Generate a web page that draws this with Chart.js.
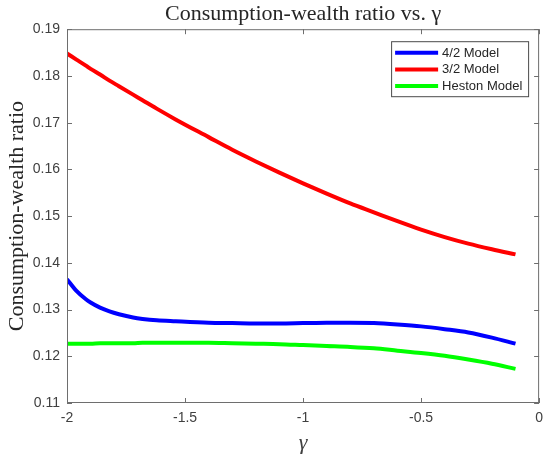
<!DOCTYPE html>
<html>
<head>
<meta charset="utf-8">
<title>Consumption-wealth ratio vs. gamma</title>
<script src="https://cdn.jsdelivr.net/npm/chart.js@4.4.0/dist/chart.umd.min.js"></script>
<style>
  html, body { margin: 0; padding: 0; background: #fff; }
  #wrap { width: 550px; height: 457px; }
</style>
</head>
<body>
<div id="wrap"><canvas id="ratioChart" width="550" height="457"></canvas></div>
<script>
// values
const gammaValues = [-2, -1.96, -1.92, -1.9, -1.86, -1.82, -1.78, -1.72, -1.68, -1.62, -1.54, -1.4, -1.3, -1.2, -1.1, -1, -0.9, -0.8, -0.7, -0.6, -0.5, -0.4, -0.3, -0.2, -0.1];
const model42 = [0.1365, 0.1340, 0.1322, 0.1315, 0.1304, 0.1296, 0.1290, 0.1283, 0.1280, 0.1277, 0.1275, 0.1272, 0.1271, 0.1270, 0.1270, 0.1271, 0.1272, 0.1272, 0.1271, 0.1268, 0.1264, 0.1258, 0.1251, 0.1240, 0.1227];
const model32 = [0.1848, 0.1835, 0.1822, 0.1815, 0.1803, 0.1790, 0.1778, 0.1760, 0.1748, 0.1730, 0.1707, 0.1669, 0.1642, 0.1617, 0.1593, 0.1570, 0.1548, 0.1527, 0.1508, 0.1489, 0.1471, 0.1455, 0.1441, 0.1429, 0.1418];
const hestonModel = [0.1227, 0.1227, 0.1227, 0.1227, 0.1228, 0.1228, 0.1228, 0.1228, 0.1229, 0.1229, 0.1229, 0.1229, 0.1228, 0.1227, 0.1226, 0.1224, 0.1222, 0.1220, 0.1217, 0.1212, 0.1207, 0.1201, 0.1193, 0.1184, 0.1173];

const seriesNames = ['4/2 Model', '3/2 Model', 'Heston Model'];
const seriesColors = ['#0000ff', '#ff0000', '#00ff00'];

const xTicks = [-2, -1.5, -1, -0.5, 0];
const xTickLabels = ['-2', '-1.5', '-1', '-0.5', '0'];
const yTicks = [0.11, 0.12, 0.13, 0.14, 0.15, 0.16, 0.17, 0.18, 0.19];
const yTickLabels = ['0.11', '0.12', '0.13', '0.14', '0.15', '0.16', '0.17', '0.18', '0.19'];

function toPoints(values) {
  return gammaValues.map((g, i) => ({ x: g, y: values[i] }));
}

// matlab style box with inward ticks on all four sides
const boxAxes = {
  id: 'boxAxes',
  afterDatasetsDraw(chart) {
    const { ctx, chartArea: a, scales } = chart;
    const tickLen = 5;
    ctx.save();
    ctx.strokeStyle = '#6e6e6e';
    ctx.lineWidth = 1;
    ctx.strokeRect(a.left + 0.5, a.top + 0.5, a.right - a.left - 1, a.bottom - a.top - 1);
    ctx.beginPath();
    xTicks.forEach(v => {
      const px = Math.round(scales.x.getPixelForValue(v)) + 0.5;
      ctx.moveTo(px, a.bottom); ctx.lineTo(px, a.bottom - tickLen);
      ctx.moveTo(px, a.top); ctx.lineTo(px, a.top + tickLen);
    });
    yTicks.forEach(v => {
      const py = Math.round(scales.y.getPixelForValue(v)) + 0.5;
      ctx.moveTo(a.left, py); ctx.lineTo(a.left + tickLen, py);
      ctx.moveTo(a.right, py); ctx.lineTo(a.right - tickLen, py);
    });
    ctx.stroke();
    ctx.restore();
  }
};

// legend box in the top right corner of the plot
const boxLegend = {
  id: 'boxLegend',
  afterDraw(chart) {
    const { ctx, chartArea: a } = chart;
    const w = 137, h = 55;
    const left = a.right - 11 - w;
    const top = a.top + 12;
    ctx.save();
    ctx.fillStyle = '#fff';
    ctx.fillRect(left, top, w, h);
    ctx.strokeStyle = '#4a4a4a';
    ctx.lineWidth = 1;
    ctx.strokeRect(left + 0.5, top + 0.5, w, h);
    ctx.font = '13px "Liberation Sans", Arial, sans-serif';
    ctx.textBaseline = 'middle';
    chart.data.datasets.forEach((ds, i) => {
      const y = top + 11.5 + i * 16.7;
      ctx.strokeStyle = ds.borderColor;
      ctx.lineWidth = 4;
      ctx.beginPath();
      ctx.moveTo(left + 4, y);
      ctx.lineTo(left + 47, y);
      ctx.stroke();
      ctx.fillStyle = '#262626';
      ctx.fillText(ds.label, left + 51, y + 0.5);
    });
    ctx.restore();
  }
};

const ctx = document.getElementById('ratioChart').getContext('2d');
const ratioChart = new Chart(ctx, {
  type: 'line',
  data: {
    datasets: [model42, model32, hestonModel].map((vals, i) => ({
      label: seriesNames[i],
      data: toPoints(vals),
      borderColor: seriesColors[i],
      backgroundColor: seriesColors[i],
      borderWidth: 4,
      pointRadius: 0,
      cubicInterpolationMode: 'monotone',
      fill: false
    }))
  },
  options: {
    responsive: false,
    animation: false,
    layout: { padding: { top: 0, right: 9, bottom: 0, left: 0 } },
    plugins: {
      legend: { display: false },
      tooltip: { enabled: false },
      title: {
        display: true,
        text: 'Consumption-wealth ratio vs. γ',
        fullSize: false,
        color: '#262626',
        font: { family: '"Liberation Serif", "Times New Roman", serif', size: 22, weight: 'normal', lineHeight: 1.1 },
        padding: { top: 2, bottom: 3 }
      }
    },
    scales: {
      x: {
        type: 'linear',
        min: -2,
        max: 0,
        afterBuildTicks: s => { s.ticks = xTicks.map(v => ({ value: v })); },
        afterFit: s => { s.height = 54; },
        grid: { display: false, drawTicks: false },
        border: { display: false },
        ticks: {
          padding: 7,
          color: '#404040',
          font: { family: '"Liberation Sans", Arial, sans-serif', size: 14 },
          maxRotation: 0,
          callback: v => xTickLabels[xTicks.indexOf(v)]
        },
        title: {
          display: true,
          text: 'γ',
          color: '#404040',
          font: { family: '"Liberation Serif", serif', size: 22, style: 'italic', lineHeight: 1.2 },
          padding: { top: 0, bottom: 1 }
        }
      },
      y: {
        type: 'linear',
        min: 0.11,
        max: 0.19,
        afterBuildTicks: s => { s.ticks = yTicks.map(v => ({ value: v })); },
        afterFit: s => { s.width = 67; },
        grid: { display: false, drawTicks: false },
        border: { display: false },
        ticks: {
          padding: 7,
          color: '#404040',
          font: { family: '"Liberation Sans", Arial, sans-serif', size: 14 },
          callback: (v, i) => yTickLabels[i]
        },
        title: {
          display: true,
          text: 'Consumption-wealth ratio',
          color: '#262626',
          font: { family: '"Liberation Serif", serif', size: 22, lineHeight: 1.2 },
          padding: { top: 4, bottom: 0 }
        }
      }
    }
  },
  plugins: [boxAxes, boxLegend]
});
</script>
</body>
</html>
